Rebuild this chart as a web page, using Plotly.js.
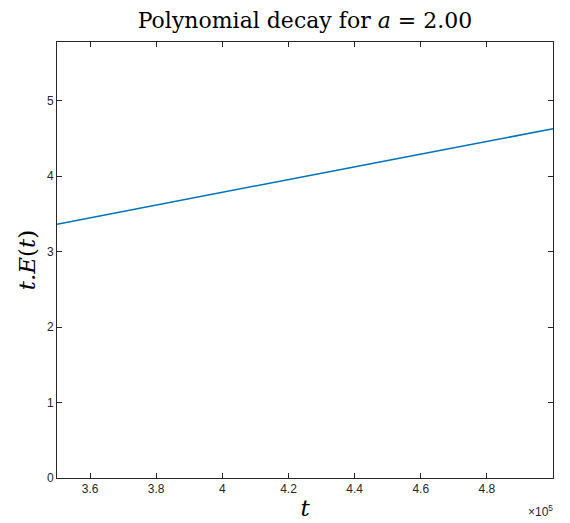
<!DOCTYPE html>
<html>
<head>
<meta charset="utf-8">
<script src="https://cdn.plot.ly/plotly-3.0.1.min.js"></script>
<style>html,body{margin:0;padding:0;background:#fff;}#chart{width:570px;height:523px;}</style>
</head>
<body>
<div id="chart"></div>
<script>
const tValues = [350000, 400000, 450000, 500000];
const tEValues = [3.364, 3.79, 4.21, 4.63];
const xTickVals = [360000, 380000, 400000, 420000, 440000, 460000, 480000];
const xTickText = ['3.6', '3.8', '4', '4.2', '4.4', '4.6', '4.8'];
const yTickVals = [0, 1, 2, 3, 4, 5];

const axisCommon = {
  showgrid: false, zeroline: false,
  showline: true, linecolor: '#262626', linewidth: 1,
  mirror: 'ticks', ticks: 'inside', ticklen: 5, tickwidth: 1, tickcolor: '#262626',
  tickfont: {family: 'Liberation Sans, Arial, sans-serif', size: 12, color: '#262626'}
};

Plotly.newPlot('chart', [{
  x: tValues, y: tEValues, type: 'scatter', mode: 'lines',
  line: {color: '#0072BD', width: 1.5}, hoverinfo: 'skip'
}], {
  width: 570, height: 523,
  margin: {l: 57, r: 17, t: 42, b: 45},
  paper_bgcolor: '#fff', plot_bgcolor: '#fff',
  showlegend: false,
  title: {
    text: 'Polynomial decay for <i>a</i> = 2.00',
    font: {family: 'DejaVu Serif, Liberation Serif, serif', size: 22, color: '#000'},
    x: 0.535, xanchor: 'center', y: 0.962, yanchor: 'middle'
  },
  xaxis: Object.assign({}, axisCommon, {
    range: [350000, 500000], tickvals: xTickVals, ticktext: xTickText,
    title: {text: '<i>t</i>', font: {family: 'DejaVu Serif, Liberation Serif, serif', size: 23, color: '#000'}, standoff: 4}
  }),
  yaxis: Object.assign({}, axisCommon, {
    range: [0, 5.78], tickvals: yTickVals,
    title: {text: '<i>t.E</i>(<i>t</i>)', font: {family: 'DejaVu Serif, Liberation Serif, serif', size: 23, color: '#000'}, standoff: 4}
  }),
  annotations: [{
    text: '×10<sup>5</sup>', xref: 'paper', yref: 'paper', x: 1, y: 0, xanchor: 'right', yanchor: 'top',
    yshift: -23, xshift: 2, showarrow: false,
    font: {family: 'Liberation Sans, Arial, sans-serif', size: 12, color: '#262626'}
  }]
}, {displayModeBar: false, staticPlot: true});
</script>
</body>
</html>
